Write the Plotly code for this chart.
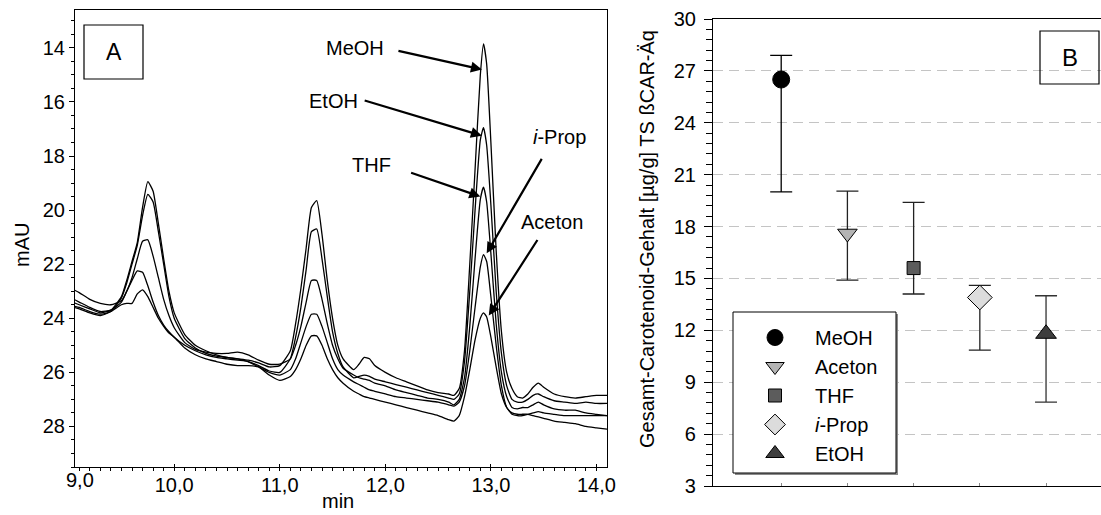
import plotly.graph_objects as go

# ---------------- Panel A: chromatograms ----------------
time_min = [9.00, 9.10, 9.20, 9.30, 9.40, 9.50, 9.55, 9.60, 9.65, 9.70, 9.75, 9.80, 9.85, 9.90, 9.95,
            10.00, 10.10, 10.20, 10.30, 10.40, 10.50, 10.60, 10.70, 10.80, 10.90, 11.00, 11.10, 11.15,
            11.20, 11.25, 11.30, 11.35, 11.40, 11.45, 11.50, 11.55, 11.60, 11.70, 11.75, 11.80, 11.85,
            11.90, 12.00, 12.10, 12.20, 12.30, 12.40, 12.50, 12.60, 12.65, 12.70, 12.75, 12.80, 12.85,
            12.90, 12.93, 12.96, 13.00, 13.05, 13.10, 13.15, 13.20, 13.25, 13.30, 13.35, 13.40, 13.45,
            13.50, 13.60, 13.70, 13.80, 13.90, 14.00, 14.10]

mau_meoh = [23.35, 23.5, 23.65, 23.8, 23.7, 23.2, 22.6, 21.9, 21.2, 19.9, 18.95, 19.3, 20.5, 21.8, 23.0,
            23.8, 24.6, 25.0, 25.2, 25.35, 25.45, 25.5, 25.55, 25.65, 25.8, 25.75, 25.2, 24.2,
            22.9, 21.4, 19.9, 19.65, 20.9, 22.6, 24.0, 25.0, 25.5, 25.9, 25.7, 25.45, 25.5,
            25.75, 26.0, 26.2, 26.35, 26.5, 26.65, 26.75, 26.8, 26.85, 26.6, 25.2, 22.0, 18.5,
            15.0, 13.85, 14.6, 17.5, 21.5, 24.5, 26.0, 26.6, 26.9, 26.95, 26.8, 26.55, 26.4,
            26.55, 26.8, 26.9, 26.95, 26.9, 26.85, 26.85]

mau_etoh = [23.5, 23.6, 23.75, 23.85, 23.75, 23.25, 22.7, 22.0, 21.3, 20.2, 19.42, 19.7, 20.8, 22.0, 23.2,
            24.0, 24.75, 25.1, 25.3, 25.4, 25.45, 25.5, 25.6, 25.75, 25.95, 26.0, 25.5, 24.7,
            23.6, 22.2, 20.8, 20.7, 21.8, 23.2, 24.5, 25.3, 25.8, 26.2, 26.15, 26.1, 26.15,
            26.25, 26.35, 26.45, 26.55, 26.65, 26.75, 26.85, 26.95, 27.0, 26.8, 25.6, 23.0, 20.0,
            17.4, 16.95, 17.6, 19.8, 23.0, 25.3, 26.5, 27.0, 27.1, 27.1, 27.0, 26.85, 26.8,
            26.9, 27.05, 27.1, 27.15, 27.1, 27.15, 27.15]

mau_thf = [22.85, 23.05, 23.3, 23.45, 23.5, 23.35, 23.0, 22.5, 21.8, 21.15, 21.1, 21.7, 22.5, 23.3, 23.9,
           24.35, 24.9, 25.15, 25.25, 25.3, 25.3, 25.25, 25.35, 25.55, 25.7, 25.7, 25.5, 25.0,
           24.3, 23.4, 22.6, 22.6, 23.3, 24.2, 25.0, 25.5, 25.85, 26.1, 26.2, 26.25, 26.3,
           26.4, 26.5, 26.65, 26.75, 26.85, 26.95, 27.0, 27.1, 27.2, 27.0, 26.2, 24.3, 21.8,
           19.6, 19.15, 19.7, 21.6, 24.2, 26.0, 26.9, 27.3, 27.35, 27.3, 27.3, 27.2, 27.1,
           27.2, 27.35, 27.4, 27.4, 27.5, 27.55, 27.6]

mau_iprop = [23.2, 23.4, 23.6, 23.75, 23.7, 23.4, 23.0, 22.6, 22.25, 22.3, 22.8, 23.4, 23.9, 24.25, 24.5,
             24.7, 25.0, 25.2, 25.35, 25.45, 25.5, 25.55, 25.6, 25.8, 26.0, 26.1, 25.9, 25.5,
             24.9, 24.3, 23.85, 23.85, 24.3, 24.9, 25.5, 25.9, 26.1, 26.35, 26.45, 26.55, 26.65,
             26.7, 26.8, 26.9, 26.95, 27.0, 27.05, 27.1, 27.2, 27.25, 27.1, 26.5, 25.2, 23.6,
             22.1, 21.65, 21.9, 23.2, 25.0, 26.5, 27.3, 27.55, 27.6, 27.6, 27.55, 27.5, 27.45,
             27.5, 27.55, 27.6, 27.6, 27.6, 27.6, 27.6]

mau_aceton = [23.55, 23.65, 23.8, 23.9, 23.75, 23.5, 23.45, 23.45, 23.1, 22.95, 23.2, 23.6, 24.0, 24.3, 24.55,
              24.7, 25.1, 25.35, 25.5, 25.6, 25.7, 25.75, 25.75, 25.8, 26.1, 26.3, 26.15, 25.9,
              25.5, 25.0, 24.65, 24.65, 25.0, 25.5, 25.9, 26.2, 26.4, 26.7, 26.8, 26.9, 26.95,
              27.0, 27.1, 27.2, 27.3, 27.4, 27.5, 27.6, 27.75, 27.8, 27.6, 26.9, 25.9, 24.8,
              24.0, 23.8, 23.95, 24.7, 25.8, 26.8, 27.3, 27.5, 27.55, 27.55, 27.55, 27.6, 27.65,
              27.7, 27.8, 27.85, 27.9, 28.0, 28.05, 28.1]

chrom_names = ["MeOH", "EtOH", "THF", "i-Prop", "Aceton"]
chrom_series = [mau_meoh, mau_etoh, mau_thf, mau_iprop, mau_aceton]

# arrow labels (data units)
label_text = ["MeOH", "EtOH", "THF", "<i>i</i>-Prop", "Aceton"]
label_x = [11.71, 11.51, 11.87, 13.65, 13.58]
label_y = [14.0, 15.95, 18.35, 17.3, 20.45]
arrow_tail_x = [12.11, 11.79, 12.23, 13.49, 13.45]
arrow_tail_y = [14.1, 15.93, 18.6, 18.05, 21.05]
arrow_head_x = [12.915, 12.915, 12.90, 12.96, 12.98]
arrow_head_y = [14.8, 17.25, 19.5, 21.6, 23.9]

# ---------------- Panel B: carotenoid content ----------------
solvents = ["MeOH", "Aceton", "THF", "<i>i</i>-Prop", "EtOH"]
content = [26.5, 17.6, 15.6, 13.9, 11.8]
upper = [27.9, 20.05, 19.4, 14.6, 14.0]
lower = [20.0, 14.9, 14.1, 10.85, 7.85]
symbols = ["circle", "triangle-down", "square", "diamond", "triangle-up"]
fills = ["#000000", "#b4b4b4", "#5c5c5c", "#dcdcdc", "#3e3e3e"]
sizes = [17, 17, 13, 19, 18]
err_colors = ["#000000", "#222222", "#222222", "#222222", "#333333"]

FONT = "Liberation Sans, Arial, sans-serif"
W, H = 1101, 515

fig = go.Figure()

for name, ys in zip(chrom_names, chrom_series):
    fig.add_trace(go.Scatter(x=time_min, y=ys, mode="lines", name=name,
                             line=dict(color="black", width=1.3, shape="spline", smoothing=0.5),
                             showlegend=False, xaxis="x", yaxis="y", hoverinfo="skip"))

for i, s in enumerate(solvents):
    fig.add_trace(go.Scatter(
        x=[i + 1], y=[content[i]], mode="markers", name=s,
        marker=dict(symbol=symbols[i], size=sizes[i], color=fills[i],
                    line=dict(color="black", width=1)),
        error_y=dict(type="data", symmetric=False,
                     array=[upper[i] - content[i]], arrayminus=[content[i] - lower[i]],
                     color=err_colors[i], thickness=1.3, width=11),
        xaxis="x2", yaxis="y2"))

fig.update_layout(
    width=W, height=H, margin=dict(l=0, r=0, t=0, b=0, autoexpand=False),
    paper_bgcolor="white", plot_bgcolor="white",
    font=dict(family=FONT, size=20, color="black"),
    separators=", ",
    xaxis=dict(domain=[75 / W, 607 / W], range=[9.06, 14.1], dtick=1, tick0=9, tickformat=".1f",
               showline=True, linecolor="black", linewidth=1.2, mirror=True,
               ticks="inside", ticklen=3, tickcolor="black", tickwidth=1,
               minor=dict(dtick=0.1, ticks="outside", ticklen=3, tickcolor="black"),
               showgrid=False, zeroline=False, anchor="y", tickfont=dict(size=20)),
    yaxis=dict(domain=[1 - 467 / H, 1 - 10 / H], range=[29.5, 12.6], dtick=2, tick0=14,
               showline=True, linecolor="black", linewidth=1.2, mirror=True,
               ticks="outside", ticklen=5, tickcolor="black",
               minor=dict(dtick=0.5, ticks="outside", ticklen=3, tickcolor="black"),
               showgrid=False, zeroline=False, anchor="x", tickfont=dict(size=20)),
    xaxis2=dict(domain=[713 / W, 1.0], range=[-0.03, 5.83], tickvals=[1, 2, 3, 4, 5],
                showticklabels=False, ticks="inside", ticklen=3, tickcolor="#888888",
                showline=True, linecolor="black", linewidth=1.2, mirror=True,
                showgrid=False, zeroline=False, anchor="y2"),
    yaxis2=dict(domain=[1 - 486 / H, 1 - 19 / H], range=[3, 30], dtick=3, tick0=3,
                showline=True, linecolor="black", linewidth=1.2,
                ticks="outside", ticklen=8, tickcolor="black", ticklabelstandoff=4,
                minor=dict(dtick=0.6, ticks="outside", ticklen=6, tickcolor="black"),
                showgrid=True, gridcolor="#c4c4c4", gridwidth=1, griddash="10px,6px",
                zeroline=False, anchor="x2", tickfont=dict(size=20)),
    legend=dict(x=735 / W, y=1 - 318 / H, xanchor="left", yanchor="top",
                bordercolor="rgba(0,0,0,0)", borderwidth=0, bgcolor="rgba(0,0,0,0)",
                font=dict(size=20), itemwidth=70, tracegroupgap=0),
    showlegend=True,
)

annotations = []
for t, tx, ty in zip(label_text, label_x, label_y):
    annotations.append(dict(x=tx, y=ty, xref="x", yref="y", text=t, showarrow=False,
                            xanchor="center", yanchor="middle", font=dict(size=20)))
for tx, ty, hx, hy in zip(arrow_tail_x, arrow_tail_y, arrow_head_x, arrow_head_y):
    annotations.append(dict(x=hx, y=hy, ax=tx, ay=ty, xref="x", yref="y", axref="x", ayref="y",
                            text="", showarrow=True, arrowhead=2, arrowsize=1, arrowwidth=2.2,
                            arrowcolor="black", standoff=0, startstandoff=0))


def paper_text(px, py, text, size=20, angle=0):
    return dict(x=px / W, y=1 - py / H, xref="paper", yref="paper", text=text,
                textangle=angle, showarrow=False, xanchor="center", yanchor="middle",
                font=dict(size=size))


annotations.append(paper_text(22, 245, "mAU", angle=-90))
annotations.append(paper_text(338, 501, "min"))
annotations.append(paper_text(80, 480, "9,0"))
annotations.append(paper_text(647, 239, "Gesamt-Carotenoid-Gehalt [µg/g] TS ßCAR-Äq", angle=-90))
annotations.append(paper_text(113.5, 52, "A", size=23))
annotations.append(paper_text(1070, 57.5, "B", size=24))
fig.update_layout(annotations=annotations)

# panel letter boxes
fig.add_shape(type="rect", xref="paper", yref="paper", x0=84 / W, x1=143 / W,
              y0=1 - 79 / H, y1=1 - 25 / H, line=dict(color="black", width=1.2))
fig.add_shape(type="rect", xref="paper", yref="paper", x0=1040 / W, x1=1099 / W,
              y0=1 - 84 / H, y1=1 - 31 / H, line=dict(color="black", width=1.2))
# legend frame with shadow
fig.add_shape(type="rect", xref="paper", yref="paper", x0=735 / W, x1=898 / W,
              y0=1 - 475 / H, y1=1 - 314 / H, line=dict(width=0), fillcolor="#8a8a8a",
              layer="above")
fig.add_shape(type="rect", xref="paper", yref="paper", x0=733 / W, x1=896 / W,
              y0=1 - 473 / H, y1=1 - 312 / H, line=dict(color="black", width=1),
              fillcolor="white", layer="above")

fig.write_html("out.html")
